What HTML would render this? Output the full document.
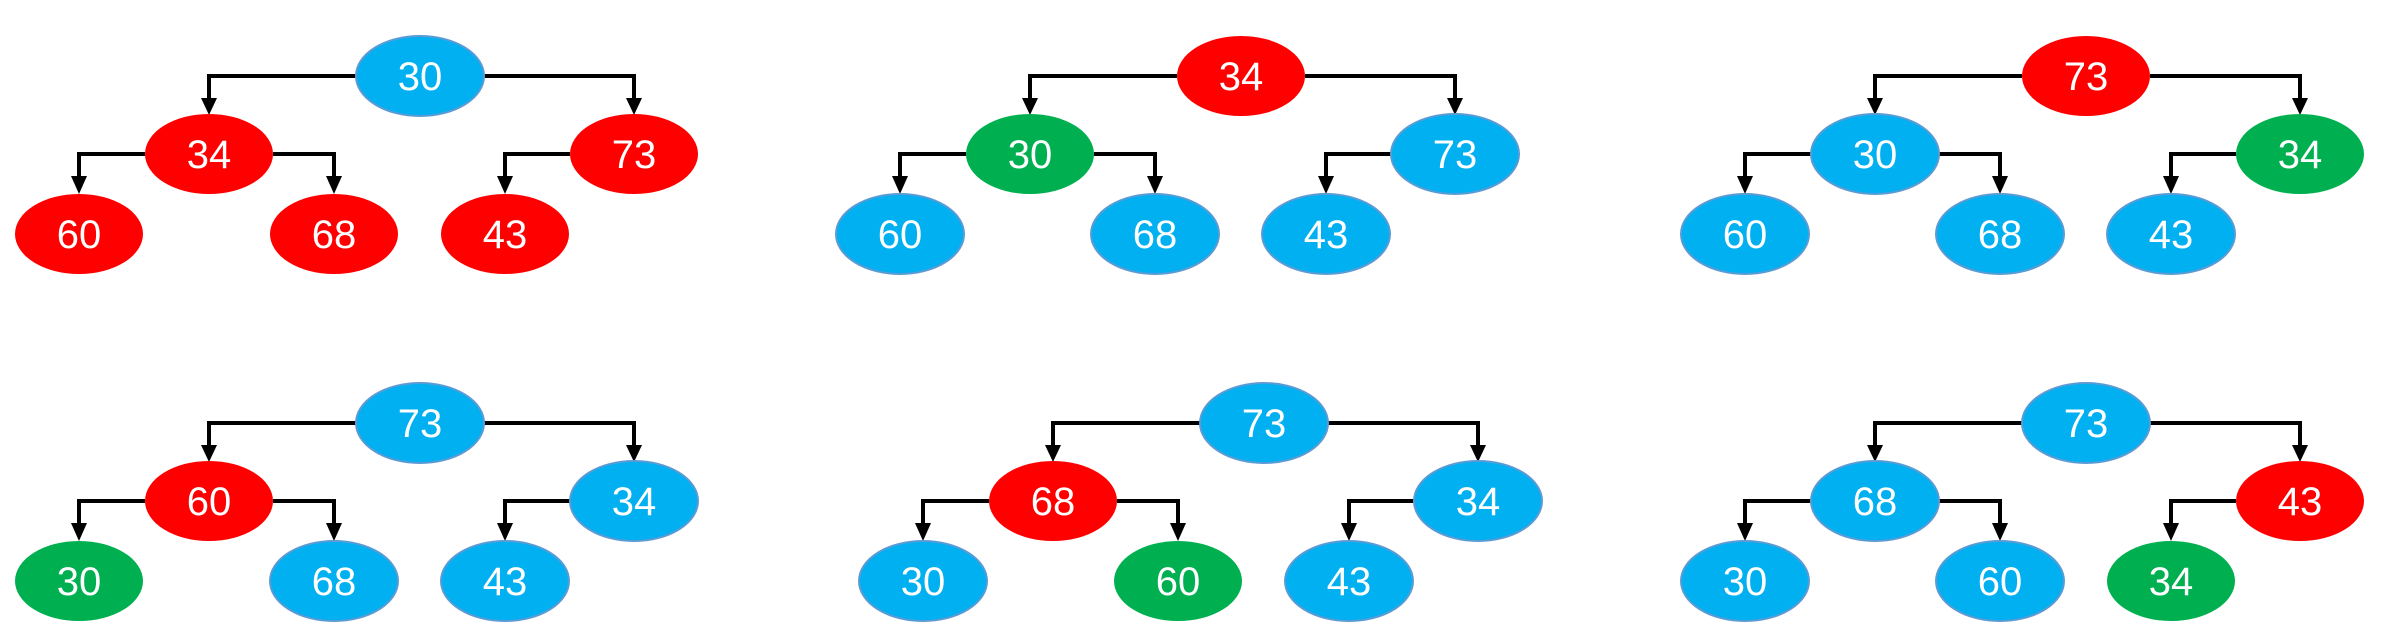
<!DOCTYPE html>
<html><head><meta charset="utf-8"><style>
html,body{margin:0;padding:0;background:#fff}
svg{display:block}
text{font-family:"Liberation Sans",sans-serif;font-size:40px;fill:#fff;text-anchor:middle}
.l{fill:none;stroke:#000;stroke-width:4}
.b{fill:#00B0F0;stroke:#5B9BD5;stroke-width:2}
.r{fill:#FF0000}
.g{fill:#00B050}
</style></head><body>
<svg width="2394" height="636" viewBox="0 0 2394 636" xmlns="http://www.w3.org/2000/svg">
<defs>
<g id="e">
<path class="l" d="M-64 0H-211V24M64 0H214V24M-275 78H-341V102M-147 78H-86V102M150 78H85V102"/>
<polygon points="-219,22 -203,22 -211,39"/>
<polygon points="206,22 222,22 214,39"/>
<polygon points="-349,100 -333,100 -341,118"/>
<polygon points="-94,100 -78,100 -86,118"/>
<polygon points="77,100 93,100 85,118"/>
</g>
</defs>

<!-- T1 -->
<g transform="translate(420,76)">
<use href="#e"/>
<ellipse class="b" cx="0" cy="0" rx="64" ry="40"/><text x="0" y="14">30</text>
<ellipse class="r" cx="-211" cy="78" rx="64" ry="40"/><text x="-211" y="92">34</text>
<ellipse class="r" cx="214" cy="78" rx="64" ry="40"/><text x="214" y="92">73</text>
<ellipse class="r" cx="-341" cy="158" rx="64" ry="40"/><text x="-341" y="172">60</text>
<ellipse class="r" cx="-86" cy="158" rx="64" ry="40"/><text x="-86" y="172">68</text>
<ellipse class="r" cx="85" cy="158" rx="64" ry="40"/><text x="85" y="172">43</text>
</g>
<!-- T2 -->
<g transform="translate(1241,76)">
<use href="#e"/>
<ellipse class="r" cx="0" cy="0" rx="64" ry="40"/><text x="0" y="14">34</text>
<ellipse class="g" cx="-211" cy="78" rx="64" ry="40"/><text x="-211" y="92">30</text>
<ellipse class="b" cx="214" cy="78" rx="64" ry="40"/><text x="214" y="92">73</text>
<ellipse class="b" cx="-341" cy="158" rx="64" ry="40"/><text x="-341" y="172">60</text>
<ellipse class="b" cx="-86" cy="158" rx="64" ry="40"/><text x="-86" y="172">68</text>
<ellipse class="b" cx="85" cy="158" rx="64" ry="40"/><text x="85" y="172">43</text>
</g>
<!-- T3 -->
<g transform="translate(2086,76)">
<use href="#e"/>
<ellipse class="r" cx="0" cy="0" rx="64" ry="40"/><text x="0" y="14">73</text>
<ellipse class="b" cx="-211" cy="78" rx="64" ry="40"/><text x="-211" y="92">30</text>
<ellipse class="g" cx="214" cy="78" rx="64" ry="40"/><text x="214" y="92">34</text>
<ellipse class="b" cx="-341" cy="158" rx="64" ry="40"/><text x="-341" y="172">60</text>
<ellipse class="b" cx="-86" cy="158" rx="64" ry="40"/><text x="-86" y="172">68</text>
<ellipse class="b" cx="85" cy="158" rx="64" ry="40"/><text x="85" y="172">43</text>
</g>
<!-- T4 -->
<g transform="translate(420,423)">
<use href="#e"/>
<ellipse class="b" cx="0" cy="0" rx="64" ry="40"/><text x="0" y="14">73</text>
<ellipse class="r" cx="-211" cy="78" rx="64" ry="40"/><text x="-211" y="92">60</text>
<ellipse class="b" cx="214" cy="78" rx="64" ry="40"/><text x="214" y="92">34</text>
<ellipse class="g" cx="-341" cy="158" rx="64" ry="40"/><text x="-341" y="172">30</text>
<ellipse class="b" cx="-86" cy="158" rx="64" ry="40"/><text x="-86" y="172">68</text>
<ellipse class="b" cx="85" cy="158" rx="64" ry="40"/><text x="85" y="172">43</text>
</g>
<!-- T5 -->
<g transform="translate(1264,423)">
<use href="#e"/>
<ellipse class="b" cx="0" cy="0" rx="64" ry="40"/><text x="0" y="14">73</text>
<ellipse class="r" cx="-211" cy="78" rx="64" ry="40"/><text x="-211" y="92">68</text>
<ellipse class="b" cx="214" cy="78" rx="64" ry="40"/><text x="214" y="92">34</text>
<ellipse class="b" cx="-341" cy="158" rx="64" ry="40"/><text x="-341" y="172">30</text>
<ellipse class="g" cx="-86" cy="158" rx="64" ry="40"/><text x="-86" y="172">60</text>
<ellipse class="b" cx="85" cy="158" rx="64" ry="40"/><text x="85" y="172">43</text>
</g>
<!-- T6 -->
<g transform="translate(2086,423)">
<use href="#e"/>
<ellipse class="b" cx="0" cy="0" rx="64" ry="40"/><text x="0" y="14">73</text>
<ellipse class="b" cx="-211" cy="78" rx="64" ry="40"/><text x="-211" y="92">68</text>
<ellipse class="r" cx="214" cy="78" rx="64" ry="40"/><text x="214" y="92">43</text>
<ellipse class="b" cx="-341" cy="158" rx="64" ry="40"/><text x="-341" y="172">30</text>
<ellipse class="b" cx="-86" cy="158" rx="64" ry="40"/><text x="-86" y="172">60</text>
<ellipse class="g" cx="85" cy="158" rx="64" ry="40"/><text x="85" y="172">34</text>
</g>
</svg>
</body></html>
